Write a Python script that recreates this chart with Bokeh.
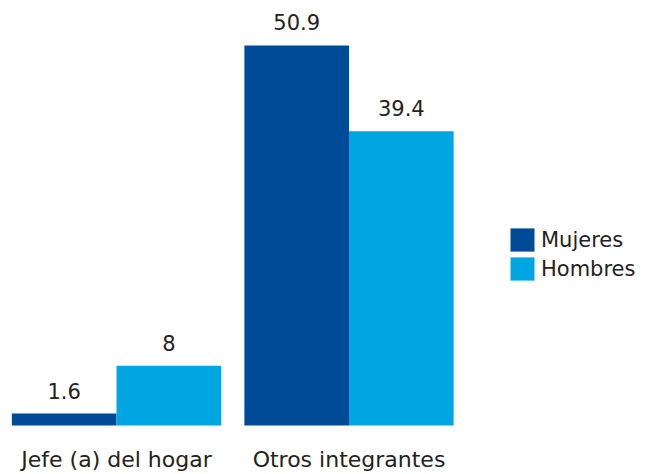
from bokeh.plotting import figure
from bokeh.models import ColumnDataSource, Range1d, Legend, LegendItem
from bokeh.transform import dodge
from bokeh.core.properties import value
from bokeh.embed import file_html
from bokeh.resources import INLINE

categories = ["Jefe (a) del hogar", "Otros integrantes"]
mujeres = [1.6, 50.9]
hombres = [8, 39.4]
series_names = ["Mujeres", "Hombres"]
colors = ["#004B98", "#00A6E2"]

xs = [i + 0.5 for i in range(len(categories))]
src = ColumnDataSource(dict(
    x=xs,
    zero=[0] * len(categories),
    cat=categories,
    m=mujeres,
    h=hombres,
    ml=[str(v) for v in mujeres],
    hl=[str(v) for v in hombres],
))

FONT = "DejaVu Sans"
TXT = "#222222"
W, H = 653, 474
PX_X = 232.5   # px per category
PX_Y = 7.466   # px per unit
BASE = 425     # px of baseline from top

p = figure(width=W, height=H, output_backend="svg", toolbar_location=None,
           x_range=Range1d(0.5 - 116 / PX_X, 0.5 - 116 / PX_X + W / PX_X),
           y_range=Range1d(-(H - BASE) / PX_Y, BASE / PX_Y),
           min_border_left=0, min_border_right=0, min_border_top=0, min_border_bottom=0)
p.outline_line_color = None
p.grid.visible = False
p.axis.visible = False

w = 0.45
r1 = p.vbar(x=dodge("x", -w / 2, range=p.x_range), top="m", width=w, source=src,
            fill_color=colors[0], line_color=None)
r2 = p.vbar(x=dodge("x", w / 2, range=p.x_range), top="h", width=w, source=src,
            fill_color=colors[1], line_color=None)

p.text(x=dodge("x", -w / 2, range=p.x_range), y="m", text="ml", source=src,
       text_align="center", text_baseline="alphabetic", y_offset=-23,
       text_font=value(FONT), text_font_size="21px", text_color=TXT)
p.text(x=dodge("x", w / 2, range=p.x_range), y="h", text="hl", source=src,
       text_align="center", text_baseline="alphabetic", y_offset=-23,
       text_font=value(FONT), text_font_size="21px", text_color=TXT)

# category labels
p.text(x="x", y="zero", text="cat", source=src,
       text_align="center", text_baseline="alphabetic", y_offset=34,
       text_font=value(FONT), text_font_size="22px", text_color=TXT)

legend = Legend(items=[LegendItem(label=series_names[0], renderers=[r1]),
                       LegendItem(label=series_names[1], renderers=[r2])],
                location=(507, 191), orientation="vertical")
legend.glyph_width = 30
legend.glyph_height = 29
legend.spacing = -3
legend.label_standoff = 4
legend.padding = 0
legend.margin = 0
legend.border_line_color = None
legend.background_fill_alpha = 0
legend.label_text_font = FONT
legend.label_text_font_size = "21px"
legend.label_text_color = TXT
p.add_layout(legend, "center")

open("out.html", "w").write(file_html(p, INLINE))
